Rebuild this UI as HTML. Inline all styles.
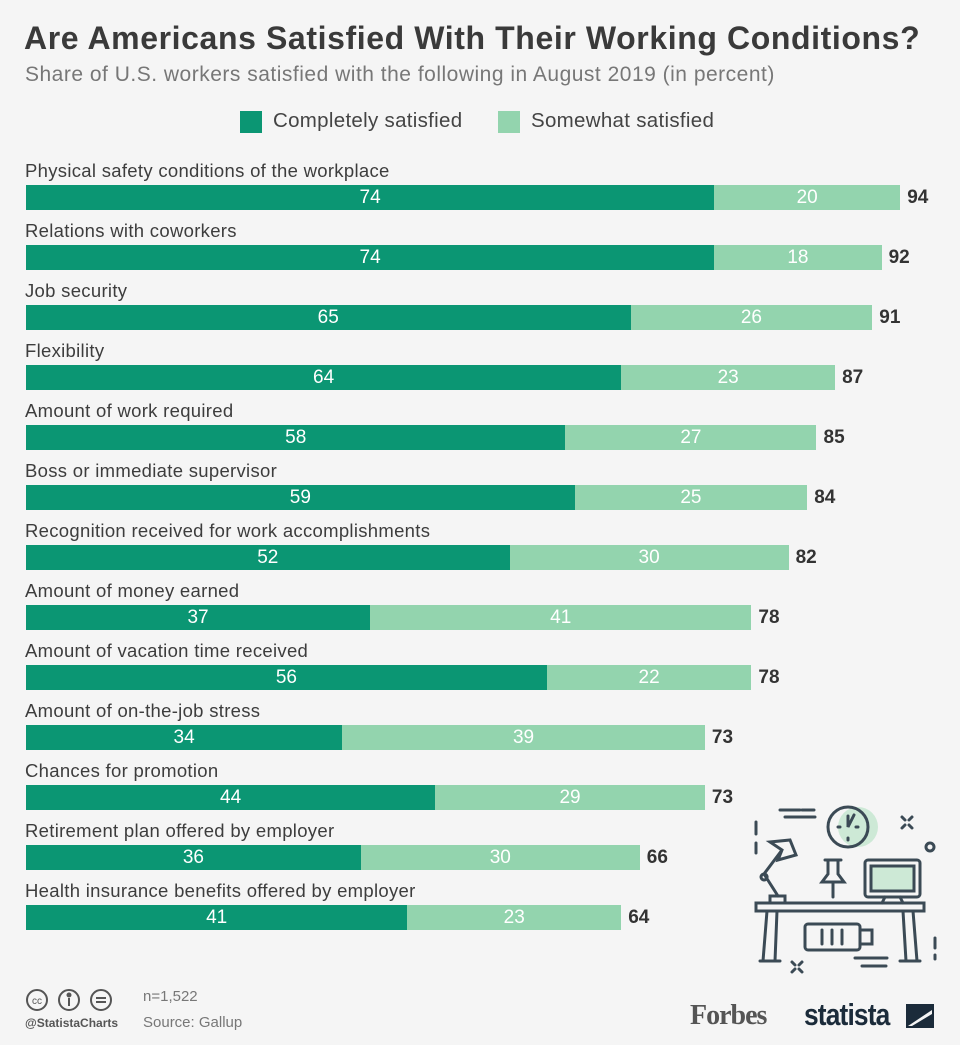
<!DOCTYPE html>
<html><head><meta charset="utf-8"><style>
body{margin:0;width:960px;height:1045px;background:#f5f5f5;font-family:"Liberation Sans",sans-serif;position:relative;overflow:hidden;color:#333}
.a{position:absolute;white-space:nowrap}
.lab{font-size:18.5px;color:#3d3d3d}
.bar{position:absolute;height:25px;color:#fff;font-size:19px;line-height:25px;text-align:center}
.d{background:#0b9673}.l{background:#93d4ae;color:#fff}
.tot{font-size:19px;font-weight:bold;color:#333;line-height:25px}
</style></head><body>
<div class="a" style="left:24px;top:20px;font-size:32px;font-weight:bold;color:#3a3a3a;letter-spacing:0.6px">Are Americans Satisfied With Their Working Conditions?</div>
<div class="a" style="left:25px;top:63px;font-size:21px;color:#777;letter-spacing:0.5px">Share of U.S. workers satisfied with the following in August 2019 (in percent)</div>
<div class="a" style="left:240px;top:111px;width:22px;height:22px;background:#0b9673"></div>
<div class="a" style="left:273px;top:109px;font-size:20.5px;color:#444;letter-spacing:0.3px">Completely satisfied</div>
<div class="a" style="left:498px;top:111px;width:22px;height:22px;background:#93d4ae"></div>
<div class="a" style="left:531px;top:109px;font-size:20.5px;color:#444;letter-spacing:0.3px">Somewhat satisfied</div>
<div id="c"></div>
<script>
var d=[["Physical safety conditions of the workplace",74,20],["Relations with coworkers",74,18],["Job security",65,26],["Flexibility",64,23],["Amount of work required",58,27],["Boss or immediate supervisor",59,25],["Recognition received for work accomplishments",52,30],["Amount of money earned",37,41],["Amount of vacation time received",56,22],["Amount of on-the-job stress",34,39],["Chances for promotion",44,29],["Retirement plan offered by employer",36,30],["Health insurance benefits offered by employer",41,23]];
var s=9.3,h="";
d.forEach(function(r,i){var y=185+i*60,w1=r[1]*s,w2=r[2]*s;
h+='<div class="a lab" style="left:25px;top:'+(y-25)+'px;letter-spacing:0.3px">'+r[0]+'</div>';
h+='<div class="bar d" style="left:26px;top:'+y+'px;width:'+w1+'px">'+r[1]+'</div>';
h+='<div class="bar l" style="left:'+(26+w1)+'px;top:'+y+'px;width:'+w2+'px">'+r[2]+'</div>';
h+='<div class="a tot" style="left:'+(26+w1+w2+7)+'px;top:'+y+'px">'+(r[1]+r[2])+'</div>';});
document.getElementById("c").innerHTML=h;
</script>
<svg class="a" style="left:740px;top:790px" width="220" height="190" viewBox="0 0 220 190" fill="none" stroke="#3b4a55" stroke-width="3" stroke-linecap="round">
<circle cx="118" cy="37" r="20" fill="#cde9d6" stroke="none"/>
<circle cx="108" cy="37" r="20"/>
<path d="M108 26v11l6-12M98 37h2M116 37h2M108 48v2"/>
<path d="M40 20h20M45 27h30M62 20h12"/>
<path d="M16 32v12M16 53v10"/>
<path d="M162 27l3 3M172 27l-3 3M162 38l3-3M172 38l-3-3"/>
<circle cx="190" cy="57" r="4"/>
<path d="M16 113h168v8H16z"/>
<path d="M27 121l-4 50M37 121l-2 50M163 121l3 50M173 121l4 50M20 171h20M160 171h20"/>
<rect x="125" y="70" width="55" height="37" rx="3"/>
<rect x="131" y="76" width="43" height="25" fill="#cde9d6"/>
<path d="M145 107l-3 6M160 107l3 6"/>
<path d="M85 70h16M88 70v14l-6 8h22l-6-8V70M93 92v15"/>
<path d="M30 112v-6h15v6M38 106L24 84l18-24M24 84a3 3 0 1 0 0.1 0M42 60l-12-8 20 -2 6 15-18 5z"/>
<rect x="65" y="134" width="55" height="26" rx="3"/>
<path d="M120 140h12v14h-12M82 140v14M92 140v14M102 140v14"/>
<path d="M52 172l3 3M62 172l-3 3M52 182l3-3M62 182l-3-3"/>
<path d="M115 168h32M122 176h24M195 148v10M195 165v4"/>
</svg>
<svg class="a" style="left:25px;top:988px" width="94" height="24" fill="none" stroke="#555" stroke-width="2">
<circle cx="12" cy="12" r="10"/><circle cx="44" cy="12" r="10"/><circle cx="76" cy="12" r="10"/>
<text x="12" y="16" font-size="10" fill="#555" stroke="none" text-anchor="middle" font-family="Liberation Sans">cc</text>
<circle cx="44" cy="7" r="1.5" fill="#555"/><path d="M44 10v8M71 10h10M71 14h10"/>
</svg>
<div class="a" style="left:143px;top:988px;font-size:15px;color:#777">n=1,522</div>
<div class="a" style="left:25px;top:1016px;font-size:12px;color:#555;font-weight:bold">@StatistaCharts</div>
<div class="a" style="left:143px;top:1014px;font-size:15px;color:#777">Source: Gallup</div>
<div class="a" style="left:690px;top:1000px;font-size:28px;font-family:'Liberation Serif',serif;font-weight:bold;color:#555;letter-spacing:-1px">Forbes</div>
<div class="a" style="left:804px;top:997px;font-size:31px;font-weight:bold;color:#1b2b3a;letter-spacing:-1px;transform:scaleX(0.85);transform-origin:left">statista</div>
<svg class="a" style="left:906px;top:1004px" width="28" height="24"><rect width="28" height="24" fill="#1b2b3a"/><path d="M2 22L26 6v4L6 22z" fill="#f5f5f5"/></svg>
</body></html>
